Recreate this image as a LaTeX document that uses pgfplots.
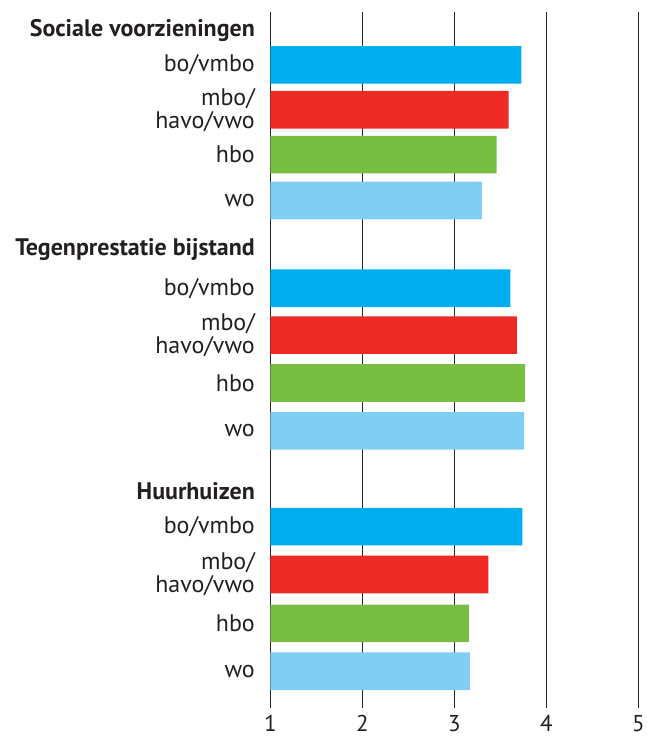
\documentclass[border=0pt]{standalone}
\usepackage{fontspec}
\setmainfont{PT Sans}
\usepackage{pgfplots}
\pgfplotsset{compat=1.18}
\definecolor{cblue}{HTML}{00AEEF}
\definecolor{cred}{HTML}{EE2A24}
\definecolor{cgreen}{HTML}{77BE43}
\definecolor{clight}{HTML}{80CFF2}
\definecolor{txt}{HTML}{231F20}
\begin{document}
\begin{tikzpicture}
\begin{axis}[
  at={(0pt,0pt)}, anchor=south west,
  scale only axis, width=369pt, height=698pt,
  xmin=1, xmax=5, ymin=12, ymax=710, y dir=reverse,
  xtick={1,2,3,4,5},
  ytick={31,65,110,155,201,250,289,336,384,432,492,528,576,625,673},
  yticklabels={\textbf{Sociale voorzieningen},bo/vmbo,{mbo/\\havo/vwo},hbo,wo,
               \textbf{Tegenprestatie bijstand},bo/vmbo,{mbo/\\havo/vwo},hbo,wo,
               \textbf{Huurhuizen},bo/vmbo,{mbo/\\havo/vwo},hbo,wo},
  yticklabel style={align=right, font=\fontsize{24}{23}\selectfont, text=txt, xshift=-12pt},
  xticklabel style={font=\fontsize{23}{23}\selectfont, text=txt, yshift=-4pt},
  /pgf/number format/assume math mode=true,
  axis line style={draw=none},
  major tick length=0pt,
  xmajorgrids, grid style={black!85, line width=1pt},
  xbar, bar width=37.7, bar shift=0pt,
]
\addplot[draw=none, fill=cblue] coordinates {(3.73,65) (3.61,289) (3.74,528)};
\addplot[draw=none, fill=cred] coordinates {(3.59,110) (3.68,336) (3.37,576)};
\addplot[draw=none, fill=cgreen] coordinates {(3.46,155) (3.77,384) (3.16,625)};
\addplot[draw=none, fill=clight] coordinates {(3.30,201) (3.76,432) (3.17,673)};
\end{axis}
\pgfresetboundingbox
\useasboundingbox (-271pt,-34pt) rectangle (377pt,710pt);
\end{tikzpicture}
\end{document}
